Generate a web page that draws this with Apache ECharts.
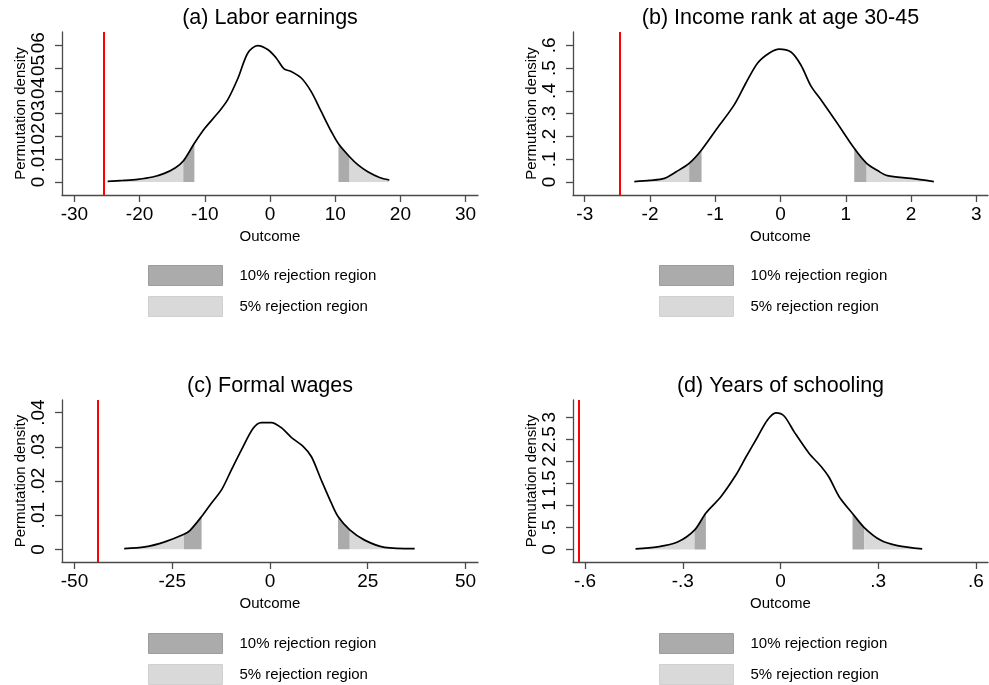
<!DOCTYPE html>
<html>
<head>
<meta charset="utf-8">
<script src="https://cdn.jsdelivr.net/npm/echarts@6/dist/echarts.min.js"></script>
<style>
  html, body { margin: 0; padding: 0; background: #fff; }
  #chart { width: 989px; height: 685px; }
</style>
</head>
<body>
<div id="chart"></div>
<script>
// Permutation densities of the estimated effect, four outcomes.
// Each panel: kernel density of permuted estimates, rejection-region cutoffs
// [5% left, 10% left, 10% right, 5% right] and the observed estimate (red line).

const titles = ['(a) Labor earnings', '(b) Income rank at age 30-45', '(c) Formal wages', '(d) Years of schooling'];

// (a) Labor earnings
const earningsX = [-24.9, -22.5, -20.3, -18, -16.2, -14.5, -13.3, -11.6, -10.0, -8.0, -6.5, -4.9, -3.4, -1.9, -0.3, 0.95, 2.2, 3.25, 4.8, 6.3, 7.85, 9.4, 10.5, 12.2, 13.5, 15.0, 16.8, 18.3];
const earningsY = [0.0003, 0.0007, 0.0012, 0.0022, 0.0038, 0.0063, 0.0092, 0.017, 0.0236, 0.0303, 0.0361, 0.0457, 0.0567, 0.0599, 0.0581, 0.0545, 0.0496, 0.0486, 0.0457, 0.0398, 0.031, 0.0222, 0.0168, 0.0111, 0.0075, 0.0045, 0.002, 0.0009];
const earningsCut = [-13.3, -11.6, 10.5, 12.2];
const earningsObs = -25.5;
const earningsXTicks = [-30, -20, -10, 0, 10, 20, 30];
const earningsYTicks = [0, 0.01, 0.02, 0.03, 0.04, 0.05, 0.06];

// (b) Income rank at age 30-45
const rankX = [-2.24, -2.0, -1.78, -1.6, -1.40, -1.21, -0.97, -0.71, -0.53, -0.35, -0.17, -0.02, 0.16, 0.31, 0.47, 0.62, 0.87, 1.13, 1.32, 1.5, 1.64, 2.0, 2.35];
const rankY = [0.002, 0.007, 0.016, 0.045, 0.082, 0.141, 0.236, 0.339, 0.435, 0.523, 0.567, 0.584, 0.571, 0.515, 0.42, 0.361, 0.258, 0.148, 0.082, 0.048, 0.028, 0.016, 0.002];
const rankCut = [-1.40, -1.21, 1.13, 1.32];
const rankObs = -2.47;
const rankXTicks = [-3, -2, -1, 0, 1, 2, 3];
const rankYTicks = [0, 0.1, 0.2, 0.3, 0.4, 0.5, 0.6];

// (c) Formal wages
const wagesX = [-37.3, -32.0, -26.9, -22.0, -20.5, -17.5, -15.0, -12.4, -9.9, -7.3, -4.3, -2.2, 0.35, 2.9, 5.5, 8.4, 10.6, 13.1, 15.7, 17.4, 20.4, 24.2, 29.3, 37.0];
const wagesY = [0.0002, 0.0007, 0.0022, 0.0044, 0.0055, 0.0096, 0.0135, 0.0174, 0.0232, 0.0291, 0.0354, 0.0371, 0.0371, 0.0356, 0.0327, 0.0302, 0.0271, 0.0203, 0.0135, 0.0096, 0.0057, 0.0027, 0.0006, 0.0002];
const wagesCut = [-22.0, -17.5, 17.4, 20.4];
const wagesObs = -44.1;
const wagesXTicks = [-50, -25, 0, 25, 50];
const wagesYTicks = [0, 0.01, 0.02, 0.03, 0.04];

// (d) Years of schooling
const schoolX = [-0.445, -0.377, -0.316, -0.264, -0.229, -0.183, -0.137, -0.106, -0.070, -0.040, -0.014, 0.011, 0.042, 0.088, 0.124, 0.149, 0.18, 0.221, 0.257, 0.308, 0.359, 0.435];
const schoolY = [0.014, 0.06, 0.17, 0.44, 0.83, 1.2, 1.69, 2.1, 2.56, 2.94, 3.10, 3.03, 2.67, 2.18, 1.89, 1.64, 1.2, 0.82, 0.5, 0.21, 0.09, 0.014];
const schoolCut = [-0.264, -0.229, 0.221, 0.257];
const schoolObs = -0.622;
const schoolXTicks = [-0.6, -0.3, 0, 0.3, 0.6];
const schoolYTicks = [0, 0.5, 1, 1.5, 2, 2.5, 3];

const FONT = '"Liberation Sans", Arial, Helvetica, sans-serif';
const AXIS = '#4a4a4a';
const DARK = '#ababab';
const LIGHT = '#d9d9d9';
const NAME10 = '10% rejection region';
const NAME5 = '5% rejection region';

const panels = [
  { x: earningsX, y: earningsY, cut: earningsCut, obs: earningsObs, xt: earningsXTicks, yt: earningsYTicks,
    xr: [-31.9, 31.9], yr: [-0.0057, 0.0659], box: { left: 62, top: 32, width: 416, height: 163 } },
  { x: rankX, y: rankY, cut: rankCut, obs: rankObs, xt: rankXTicks, yt: rankYTicks,
    xr: [-3.18, 3.18], yr: [-0.057, 0.659], box: { left: 573, top: 32, width: 415, height: 163 } },
  { x: wagesX, y: wagesY, cut: wagesCut, obs: wagesObs, xt: wagesXTicks, yt: wagesYTicks,
    xr: [-53.2, 53.2], yr: [-0.0037, 0.0437], box: { left: 62, top: 400, width: 416, height: 162 } },
  { x: schoolX, y: schoolY, cut: schoolCut, obs: schoolObs, xt: schoolXTicks, yt: schoolYTicks,
    xr: [-0.637, 0.637], yr: [-0.282, 3.393], box: { left: 573, top: 400, width: 415, height: 162 } }
];

// Stata-style numbers: drop the leading zero (".5", "-.3")
const stataNum = v => String(+v.toFixed(6)).replace(/^(-?)0\./, '$1.');

const SMOOTH = 0.3;
const N = panels.length;
const grid = [], xAxis = [], yAxis = [], series = [], title = [], legend = [];

const labelBase = { fontFamily: FONT, fontSize: 19, color: '#000', showMinLabel: true, showMaxLabel: true, hideOverlap: false };

panels.forEach((p, i) => {
  const pts = p.x.map((v, k) => [v, p.y[k]]);
  grid[i] = Object.assign({ outerBoundsMode: 'none', containLabel: false }, p.box);
  // twin grid over the same box: carries every other y label so the
  // tightly packed Stata-style labels are all kept
  grid[N + i] = Object.assign({ outerBoundsMode: 'none', containLabel: false }, p.box);

  title.push({
    text: titles[i],
    left: p.box.left + p.box.width / 2,
    top: p.box.top - 25,
    textAlign: 'center',
    padding: 0,
    textStyle: { fontFamily: FONT, fontSize: 21.5, fontWeight: 'normal', color: '#000' }
  });

  xAxis[i] = {
    type: 'value', gridIndex: i, min: p.xr[0], max: p.xr[1],
    name: 'Outcome', nameLocation: 'middle', nameGap: 34,
    nameTextStyle: { fontFamily: FONT, fontSize: 15, color: '#000' },
    axisLine: { onZero: false, lineStyle: { color: AXIS, width: 1.3 } },
    axisTick: { length: 7, lineStyle: { color: AXIS, width: 1.3 }, customValues: p.xt },
    axisLabel: Object.assign({ customValues: p.xt, formatter: stataNum, margin: 10 }, labelBase),
    splitLine: { show: false }
  };
  xAxis[N + i] = { type: 'value', gridIndex: N + i, min: p.xr[0], max: p.xr[1], show: false };

  const evenTicks = p.yt.filter((_, k) => k % 2 === 0);
  const oddTicks = p.yt.filter((_, k) => k % 2 === 1);

  yAxis[i] = {
    type: 'value', gridIndex: i, min: p.yr[0], max: p.yr[1],
    name: 'Permutation density', nameLocation: 'middle', nameGap: 34, nameRotate: 90,
    nameTextStyle: { fontFamily: FONT, fontSize: 15, color: '#000' },
    axisLine: { show: true, onZero: false, lineStyle: { color: AXIS, width: 1.3 } },
    axisTick: { show: true, length: 7, lineStyle: { color: AXIS, width: 1.3 }, customValues: evenTicks },
    axisLabel: Object.assign({ customValues: evenTicks, formatter: stataNum, rotate: 90, margin: 14 }, labelBase),
    splitLine: { show: false }
  };
  yAxis[N + i] = {
    type: 'value', gridIndex: N + i, min: p.yr[0], max: p.yr[1], position: 'left',
    axisLine: { show: false, onZero: false },
    axisTick: { show: true, length: 7, lineStyle: { color: AXIS, width: 1.3 }, customValues: oddTicks },
    axisLabel: Object.assign({ customValues: oddTicks, formatter: stataNum, rotate: 90, margin: 14 }, labelBase),
    splitLine: { show: false }
  };

  const [l5, l10, r10, r5] = p.cut;
  const area = (name, color, lo, hi) => ({
    type: 'line', name, xAxisIndex: i, yAxisIndex: i,
    data: pts.filter(d => d[0] >= lo && d[0] <= hi),
    smooth: SMOOTH, symbol: 'none', silent: true, z: 2,
    lineStyle: { width: 0 }, itemStyle: { color },
    areaStyle: { color, opacity: 1 }
  });
  series.push(area(NAME5, LIGHT, -Infinity, l5));
  series.push(area(NAME10, DARK, l5, l10));
  series.push(area(NAME10, DARK, r10, r5));
  series.push(area(NAME5, LIGHT, r5, Infinity));

  series.push({
    type: 'line', name: 'density', xAxisIndex: i, yAxisIndex: i,
    data: pts, smooth: SMOOTH, symbol: 'none', silent: true, z: 3,
    lineStyle: { color: '#000', width: 1.7 },
    markLine: {
      silent: true, symbol: 'none', label: { show: false },
      lineStyle: { color: '#ff0000', width: 2, type: 'solid' },
      data: [{ xAxis: p.obs }]
    }
  });

  legend.push({
    left: p.box.left + 86, top: p.box.top + 233,
    orient: 'vertical', itemWidth: 74, itemHeight: 20, itemGap: 10, padding: 0,
    selectedMode: false,
    textStyle: { fontFamily: FONT, fontSize: 15, color: '#000', padding: [0, 0, 0, 12] },
    data: [
      { name: NAME10, icon: 'rect', itemStyle: { color: DARK, borderColor: '#9d9d9d', borderWidth: 1 } },
      { name: NAME5, icon: 'rect', itemStyle: { color: LIGHT, borderColor: '#d0d0d0', borderWidth: 1 } }
    ]
  });
});

const chart = echarts.init(document.getElementById('chart'), null, { renderer: 'canvas' });
chart.setOption({
  backgroundColor: '#fff',
  animation: false,
  title, legend, grid, xAxis, yAxis, series
});
</script>
</body>
</html>
